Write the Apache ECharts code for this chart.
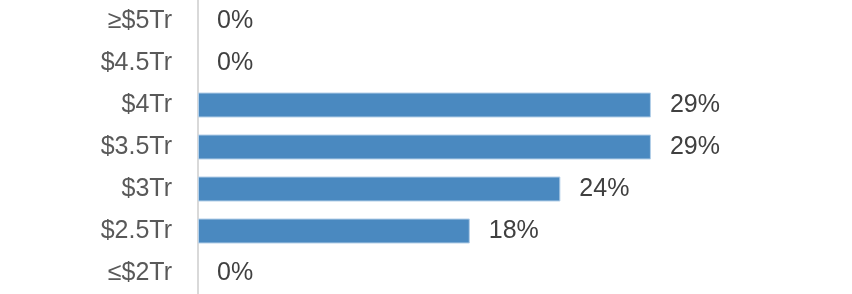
<!DOCTYPE html>
<html><head><meta charset="utf-8">
<script src="https://cdn.jsdelivr.net/npm/echarts@6/dist/echarts.min.js"></script>
<style>html,body{margin:0;padding:0;background:#fff}#c{width:852px;height:294px}</style>
</head><body><div id="c"></div>
<script>
const categories = ['≤$2Tr', '$2.5Tr', '$3Tr', '$3.5Tr', '$4Tr', '$4.5Tr', '≥$5Tr'];
const values = [0, 17.65, 23.53, 29.41, 29.41, 0, 0];
const valueLabels = ['0%', '18%', '24%', '29%', '29%', '0%', '0%'];

const FONT = '"Liberation Sans", Arial, sans-serif';
const chart = echarts.init(document.getElementById('c'));
chart.setOption({
  animation: false,
  grid: { left: 198, right: 38, top: 0, bottom: 0, containLabel: false },
  xAxis: { type: 'value', min: 0, max: 40, show: false },
  yAxis: {
    type: 'category', data: categories,
    axisLine: { show: true, lineStyle: { color: '#d9d9d9', width: 2 } },
    axisTick: { show: false },
    axisLabel: { color: '#595959', fontSize: 25, fontFamily: FONT, margin: 26 }
  },
  series: [{
    type: 'bar', barWidth: 25,
    data: values.map(v => ({ value: v, itemStyle: { borderWidth: v > 0 ? 1 : 0 } })),
    itemStyle: { color: '#4a89c0', borderColor: '#b4cfe8' },
    label: {
      show: true, position: 'right', distance: 19,
      color: '#404040', fontSize: 25, fontFamily: FONT,
      formatter: p => valueLabels[p.dataIndex]
    }
  }]
});
</script></body></html>
